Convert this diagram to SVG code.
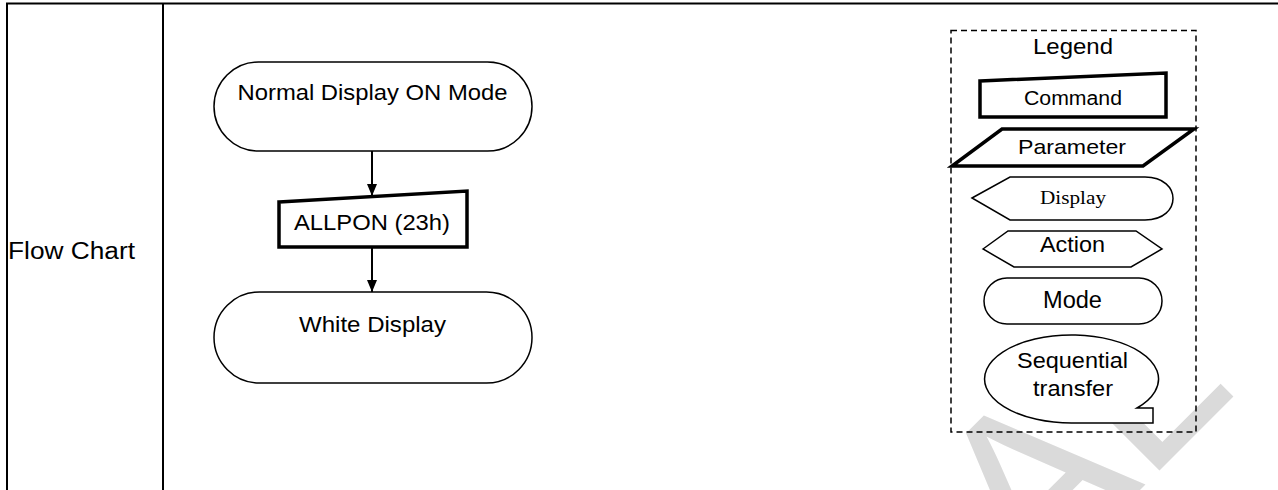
<svg xmlns="http://www.w3.org/2000/svg" width="1278" height="490" viewBox="0 0 1278 490">
<style>
.t{font-family:"Liberation Sans",Arial,sans-serif;fill:#000;text-anchor:middle}
.ts{font-family:"Liberation Serif","Times New Roman",serif;fill:#000;text-anchor:middle}
.shape{fill:#fff;stroke:#000;stroke-width:1.5}
.thick{fill:#fff;stroke:#000;stroke-width:3.5;stroke-linejoin:miter}
.conn{stroke:#000;stroke-width:2;fill:none}
.grid{stroke:#000;stroke-width:2;fill:none}
.wm{font-family:"Liberation Sans",Arial,sans-serif;fill:#dadada}
</style>
<defs>
<marker id="arr" viewBox="0 0 12 10" refX="12" refY="5" markerWidth="12" markerHeight="10" markerUnits="userSpaceOnUse" orient="auto">
<path d="M0,0 L12,5 L0,10 Z" fill="#000"/>
</marker>
</defs>
<rect x="0" y="0" width="1278" height="490" fill="#fff"/>
<g id="watermark">
<text class="wm" font-size="237" transform="translate(1034,596) rotate(-45)">AL</text>
</g>
<g id="table">
<line class="grid" x1="6" y1="3.5" x2="1278" y2="3.5"/>
<line class="grid" x1="7" y1="3" x2="7" y2="490"/>
<line class="grid" x1="163" y1="3" x2="163" y2="490"/>
<text class="t" style="text-anchor:start" x="8" y="259" font-size="23" textLength="127" lengthAdjust="spacingAndGlyphs">Flow Chart</text>
</g>
<g id="connectors">
<line class="conn" x1="372" y1="151" x2="372" y2="196" marker-end="url(#arr)"/>
<line class="conn" x1="372" y1="247" x2="372" y2="292" marker-end="url(#arr)"/>
</g>
<g id="node-normal">
<rect class="shape" x="214" y="62" width="318" height="89" rx="44.5"/>
<text class="t" x="372.5" y="100" font-size="22" textLength="270" lengthAdjust="spacingAndGlyphs">Normal Display ON Mode</text>
</g>
<g id="node-allpon">
<polygon class="thick" points="279,202 467,191 467,247 279,247"/>
<text class="t" x="372" y="230" font-size="22" textLength="156" lengthAdjust="spacingAndGlyphs">ALLPON (23h)</text>
</g>
<g id="node-white">
<rect class="shape" x="214" y="292" width="318" height="91" rx="45.5"/>
<text class="t" x="372.5" y="332" font-size="22" textLength="147" lengthAdjust="spacingAndGlyphs">White Display</text>
</g>
<g id="legend">
<rect x="951" y="30.5" width="245" height="401.5" fill="none" stroke="#000" stroke-width="1.5" stroke-dasharray="6 4"/>
<text class="t" x="1073" y="54" font-size="22" textLength="80" lengthAdjust="spacingAndGlyphs">Legend</text>
<g id="legend-command">
<polygon class="thick" points="980,81 1166,73 1166,117 980,117"/>
<text class="t" x="1073" y="105" font-size="19.5" textLength="98" lengthAdjust="spacingAndGlyphs">Command</text>
</g>
<g id="legend-parameter">
<polygon class="thick" points="1002,129 1194,129 1143,166 952,166"/>
<text class="t" x="1072" y="154" font-size="21" textLength="108" lengthAdjust="spacingAndGlyphs">Parameter</text>
</g>
<g id="legend-display">
<path class="shape" d="M972,198 L1010,177 L1145,177 C1164,177 1173,188 1173,198.5 C1173,209 1164,220 1145,220 L1010,220 Z"/>
<text class="ts" x="1073" y="204" font-size="19" textLength="66" lengthAdjust="spacingAndGlyphs">Display</text>
</g>
<g id="legend-action">
<polygon class="shape" points="983,249 1008,231 1136,231 1162,249 1131,267 1014,267"/>
<text class="t" x="1072.5" y="252" font-size="21.5" textLength="65" lengthAdjust="spacingAndGlyphs">Action</text>
</g>
<g id="legend-mode">
<rect class="shape" x="984" y="278" width="178" height="46" rx="23"/>
<text class="t" x="1072.5" y="308" font-size="23" textLength="59" lengthAdjust="spacingAndGlyphs">Mode</text>
</g>
<g id="legend-sequential">
<path class="shape" d="M1137,408 L1153,408 L1153,423 L1073,423 A87,44 0 1 1 1137,408 Z"/>
<text class="t" x="1072.5" y="368" font-size="21.5" textLength="111" lengthAdjust="spacingAndGlyphs">Sequential</text>
<text class="t" x="1073" y="396" font-size="21.5" textLength="80" lengthAdjust="spacingAndGlyphs">transfer</text>
</g>
</g>
</svg>
